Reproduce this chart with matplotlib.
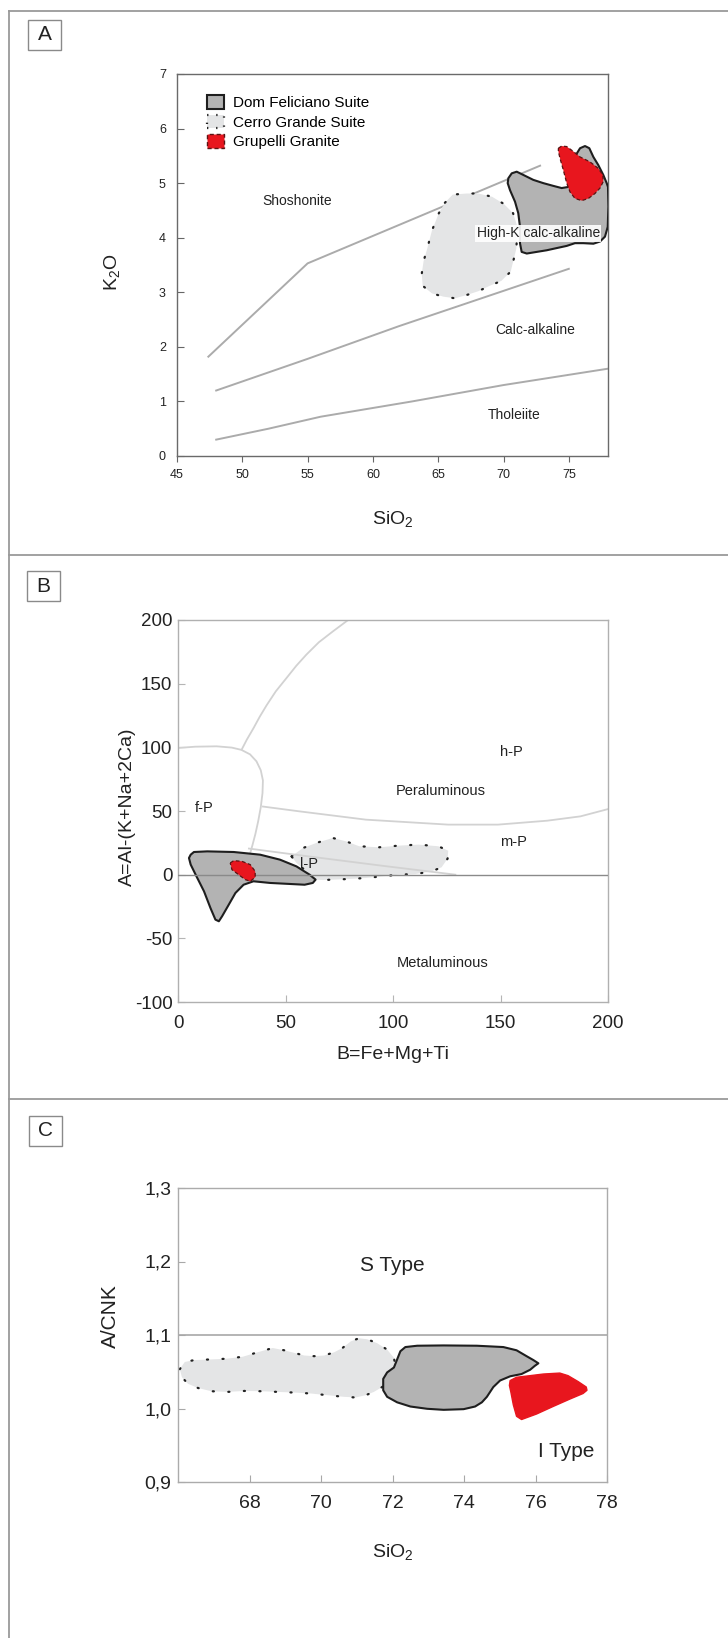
import numpy as np
import matplotlib
matplotlib.use('Agg')
from matplotlib import pyplot as plt
from matplotlib.patches import Polygon, Patch, Rectangle
from matplotlib.lines import Line2D

plt.rcParams['font.family'] = ['Liberation Sans', 'DejaVu Sans']
plt.rcParams['axes.unicode_minus'] = False

# ---------------- panel A : K2O vs SiO2 ----------------
a_xticks = [45, 50, 55, 60, 65, 70, 75]
a_yticks = [0, 1, 2, 3, 4, 5, 6, 7]
a_sho_x = [47.4, 55.0, 72.8]
a_sho_y = [1.82, 3.53, 5.32]
a_hik_x = [48.0, 55.0, 62.0, 75.0]
a_hik_y = [1.20, 1.78, 2.38, 3.43]
a_tho_x = [48.0, 52.0, 56.0, 63.0, 70.0, 78.0]
a_tho_y = [0.30, 0.50, 0.72, 1.00, 1.30, 1.60]

a_cerro_x = [65.51, 66.11, 67.18, 68.07, 69.13, 70.02, 70.73, 71.08, 70.98, 70.55, 69.84,
             68.95, 68.07, 67.18, 66.29, 65.40, 64.52, 63.81, 63.74, 63.88, 64.16, 64.52, 65.05]
a_cerro_y = [4.64, 4.79, 4.81, 4.81, 4.75, 4.62, 4.45, 4.19, 3.80, 3.38, 3.21,
             3.12, 3.02, 2.95, 2.89, 2.92, 2.98, 3.12, 3.34, 3.57, 3.80, 4.13, 4.45]

a_dom_x = [70.37, 70.63, 71.01, 71.52, 72.28, 73.05, 73.81, 74.45, 74.96, 75.30, 75.50,
           75.86, 76.24, 76.57, 76.88, 77.26, 77.64, 77.90, 78.00, 78.03, 77.98, 77.77,
           77.39, 76.88, 76.11, 75.47, 74.84, 74.07, 73.31, 72.54, 71.78, 71.39, 71.26,
           71.26, 71.13, 70.88, 70.50, 70.32]
a_dom_y = [5.09, 5.18, 5.21, 5.15, 5.06, 5.00, 4.95, 4.91, 4.93, 5.20, 5.50,
           5.64, 5.68, 5.64, 5.48, 5.33, 5.15, 5.00, 4.93, 4.57, 4.20, 4.02,
           3.93, 3.89, 3.90, 3.90, 3.85, 3.81, 3.77, 3.74, 3.71, 3.74, 3.90,
           4.20, 4.45, 4.66, 4.87, 5.00]

a_gru_x = [74.20, 74.45, 74.84, 75.35, 75.86, 76.62, 77.26, 77.60, 77.64, 77.39, 77.00,
           76.50, 75.99, 75.47, 75.09, 74.84, 74.58, 74.33, 74.20]
a_gru_y = [5.64, 5.68, 5.67, 5.58, 5.48, 5.39, 5.27, 5.15, 5.03, 4.91, 4.81,
           4.72, 4.68, 4.72, 4.84, 5.00, 5.24, 5.45, 5.58]

a_labels = ['Shoshonite', 'High-K calc-alkaline', 'Calc-alkaline', 'Tholeiite']
a_label_x = [54.2, 72.65, 72.4, 70.8]
a_label_y = [4.68, 4.08, 2.30, 0.76]

legend_names = ['Dom Feliciano Suite', 'Cerro Grande Suite', 'Grupelli Granite']

# ---------------- panel B : A-B diagram ----------------
b_xticks = [0, 50, 100, 150, 200]
b_yticks = [-100, -50, 0, 50, 100, 150, 200]
b_fp_x = [0.0, 8.0, 18.0, 25.0, 29.5, 33.5, 36.5, 38.5, 39.5, 39.3, 38.5, 37.3, 36.0, 34.6, 33.6]
b_fp_y = [99.5, 100.5, 100.8, 99.8, 98.0, 94.5, 89.0, 82.0, 74.0, 64.0, 53.0, 42.0, 32.0, 23.0, 17.0]
b_arc_x = [29.7, 32.0, 35.1, 38.0, 41.2, 45.5, 50.5, 55.0, 59.7, 65.5, 72.0, 80.4]
b_arc_y = [98.5, 106.0, 115.0, 124.0, 133.0, 144.0, 154.5, 164.0, 172.8, 182.5, 191.0, 201.6]
b_hp_x = [39.5, 56.6, 87.4, 125.7, 148.8, 171.8, 187.2, 200.0]
b_hp_y = [53.5, 49.7, 43.2, 39.3, 39.3, 42.4, 45.8, 51.5]
b_lp_x = [33.0, 60.0, 95.0, 129.0]
b_lp_y = [20.5, 14.5, 7.0, 0.0]

b_dom_x = [5.9, 7.4, 13.6, 25.9, 38.2, 47.4, 55.1, 61.2, 64.0, 62.7, 58.9, 52.0, 42.8,
           35.1, 30.5, 26.7, 23.6, 20.5, 19.0, 17.4, 15.1, 12.1, 8.2, 5.9, 5.1]
b_dom_y = [15.7, 17.8, 18.3, 17.8, 15.7, 11.8, 6.5, 0.0, -3.9, -6.5, -7.9, -7.3, -6.5,
           -5.2, -7.9, -14.4, -23.6, -32.7, -36.6, -35.3, -26.2, -13.1, 0.0, 7.9, 13.1]
b_cerro_x = [52.8, 58.1, 64.3, 72.0, 78.1, 84.3, 93.5, 102.7, 111.9, 121.1, 125.7, 125.4,
             122.6, 118.0, 110.4, 102.7, 95.0, 87.3, 79.6, 72.0, 67.4, 62.7, 59.7, 55.1]
b_cerro_y = [14.4, 20.9, 24.9, 28.8, 26.2, 22.3, 21.5, 22.8, 23.6, 22.3, 18.8, 12.6,
             5.8, 2.6, 0.5, 0.0, -1.3, -2.6, -3.4, -3.9, -4.2, -3.9, 2.6, 9.2]
b_gru_x = [24.3, 25.9, 29.7, 33.6, 35.9, 35.9, 33.6, 31.3, 28.2, 25.1]
b_gru_y = [9.2, 11.0, 10.5, 7.9, 2.6, -2.1, -5.2, -3.9, 0.0, 3.9]

b_labels = ['h-P', 'Peraluminous', 'f-P', 'm-P', 'l-P', 'Metaluminous']
b_label_x = [155, 122, 12, 156, 61, 123]
b_label_y = [96, 66, 52, 26, 8.5, -69]

# ---------------- panel C : A/CNK vs SiO2 ----------------
c_xticks = [68, 70, 72, 74, 76, 78]
c_yticks = [0.9, 1.0, 1.1, 1.2, 1.3]
c_yticklabels = ['0,9', '1,0', '1,1', '1,2', '1,3']
c_split = 1.1

c_cerro_x = [66.05, 66.19, 66.46, 66.93, 67.35, 67.81, 68.23, 68.65, 68.97, 69.25, 69.53,
             69.81, 70.09, 70.37, 70.60, 70.83, 71.06, 71.29, 71.57, 71.85, 72.04, 72.08,
             71.99, 71.85, 71.71, 71.48, 71.25, 70.97, 70.64, 70.18, 69.72, 69.25, 68.79,
             68.32, 67.86, 67.39, 66.93, 66.56, 66.28, 66.11]
c_cerro_y = [1.0535, 1.0633, 1.0659, 1.0668, 1.0677, 1.0704, 1.0765, 1.0823, 1.0792, 1.0757,
             1.0721, 1.0712, 1.0721, 1.0765, 1.0823, 1.0912, 1.0956, 1.0942, 1.0889, 1.0801,
             1.0690, 1.0580, 1.0469, 1.0380, 1.0292, 1.0226, 1.0181, 1.0150, 1.0159, 1.0181,
             1.0204, 1.0217, 1.0226, 1.0235, 1.0239, 1.0226, 1.0235, 1.0279, 1.0336, 1.0425]
c_dom_x = [72.13, 72.22, 72.36, 72.69, 73.43, 74.36, 75.10, 75.47, 75.75, 75.94, 76.08,
           75.98, 75.85, 75.61, 75.29, 75.01, 74.82, 74.64, 74.50, 74.31, 73.99, 73.43,
           72.97, 72.50, 72.13, 71.85, 71.74, 71.74, 71.85, 72.04]
c_dom_y = [1.0668, 1.0779, 1.0836, 1.0854, 1.0858, 1.0854, 1.0836, 1.0792, 1.0712, 1.0659,
           1.0615, 1.0580, 1.0527, 1.0469, 1.0438, 1.0381, 1.0292, 1.0159, 1.0084, 1.0027,
           0.9991, 0.9982, 0.9996, 1.0027, 1.0084, 1.0159, 1.0248, 1.0403, 1.0491, 1.0558]
c_gru_x = [75.29, 75.47, 75.85, 76.22, 76.68, 76.91, 77.19, 77.42, 77.44, 77.33, 76.96,
           76.49, 76.03, 75.61, 75.47, 75.38, 75.31, 75.27]
c_gru_y = [1.0380, 1.0425, 1.0447, 1.0469, 1.0482, 1.0447, 1.0367, 1.0292, 1.0248, 1.0204,
           1.0128, 1.0027, 0.9925, 0.9850, 0.9894, 1.0049, 1.0226, 1.0314]

c_labels = ['S Type', 'I Type']
c_label_x = [72.0, 76.85]
c_label_y = [1.195, 0.942]

# ---------------- styles ----------------
W, H = 728, 1638
DOM_FC, DOM_EC = '#b3b3b3', '#1e1e1e'
CER_FC = '#e4e5e6'
GRU_FC, GRU_EC = '#e8161e', '#5a1414'
FRAME = '#9a9a9a'


def fig_xy(px, py):
    return px / W, 1 - py / H


def axes_rect(l, t, r, b):
    x0, y1 = fig_xy(l, t)
    x1, y0 = fig_xy(r, b)
    return [x0, y0, x1 - x0, y1 - y0]


def shape(ax, xs, ys, kind, z):
    pts = np.column_stack([xs, ys])
    if kind == 'dom':
        p = Polygon(pts, closed=True, fc=DOM_FC, ec=DOM_EC, lw=1.5, joinstyle='round', zorder=z)
    elif kind == 'cerro':
        p = Polygon(pts, closed=True, fc=CER_FC, ec='#222222', lw=1.6,
                    linestyle=(0, (0.5, 6.5)), capstyle='round', zorder=z)
    else:
        p = Polygon(pts, closed=True, fc=GRU_FC, ec=GRU_EC, lw=0.9,
                    linestyle=(0, (3, 2)), joinstyle='round', zorder=z)
    ax.add_patch(p)


def style_axes(ax, spine_col):
    for s in ax.spines.values():
        s.set_color(spine_col)
        s.set_linewidth(1.0)


fig = plt.figure(figsize=(W / 100, H / 100), dpi=100)
fig.patch.set_facecolor('white')

# outer frame and separators
fig.add_artist(Line2D([9 / W, 9 / W], [0, 1 - 11 / H], color=FRAME, lw=1.3))
for yy in [11, 555, 1099]:
    fig.add_artist(Line2D([9 / W, 1], [1 - yy / H, 1 - yy / H], color=FRAME, lw=1.3))

# panel letters
for letter, (bx, by) in zip(['A', 'B', 'C'], [(28, 20), (27, 571), (29, 1116)]):
    x0, y1 = fig_xy(bx, by)
    x1, y0 = fig_xy(bx + 33, by + 30)
    fig.add_artist(Rectangle((x0, y0), x1 - x0, y1 - y0, fill=False, ec='#8a8a8a', lw=1.0,
                             transform=fig.transFigure))
    fig.text((x0 + x1) / 2, (y0 + y1) / 2, letter, ha='center', va='center', fontsize=15,
             color='#222222')

# ---- A ----
ax = fig.add_axes(axes_rect(177, 74, 608, 456))
ax.set_xlim(45, 78)
ax.set_ylim(0, 7)
for xs, ys in [(a_sho_x, a_sho_y), (a_hik_x, a_hik_y), (a_tho_x, a_tho_y)]:
    ax.plot(xs, ys, color='#ababab', lw=1.4, zorder=1)
shape(ax, a_cerro_x, a_cerro_y, 'cerro', 2)
shape(ax, a_dom_x, a_dom_y, 'dom', 3)
shape(ax, a_gru_x, a_gru_y, 'gru', 4)
for t, x, y in zip(a_labels, a_label_x, a_label_y):
    kw = {}
    if t.startswith('High'):
        kw['bbox'] = dict(fc='white', ec='none', pad=1.0, alpha=0.9)
    ax.text(x, y, t, ha='center', va='center', fontsize=10, color='#222222', zorder=5, **kw)
ax.set_xticks(a_xticks)
ax.set_yticks(a_yticks)
ax.tick_params(axis='x', direction='out', length=4, width=0.8, color='#666666', labelsize=9,
               pad=5, labelcolor='#222222')
ax.tick_params(axis='y', direction='in', length=5, width=0.8, color='#666666', labelsize=9,
               pad=8, labelcolor='#222222')
style_axes(ax, '#6a6a6a')
ax.set_xlabel('SiO$_\\mathregular{2}$', fontsize=14, color='#222222')
ax.set_ylabel('K$_\\mathregular{2}$O', fontsize=14, color='#222222')
ax.xaxis.set_label_coords(0.5, -0.14)
ax.yaxis.set_label_coords(-0.125, 0.48)
handles = [Patch(fc=DOM_FC, ec=DOM_EC, lw=1.5),
           Patch(fc=CER_FC, ec='#222222', lw=1.6, linestyle=(0, (0.6, 3.5))),
           Patch(fc=GRU_FC, ec=GRU_EC, lw=1.0, linestyle=(0, (3, 2)))]
ax.legend(handles, legend_names, loc='upper left', bbox_to_anchor=(0.07, 0.945), frameon=False,
          fontsize=11, handlelength=1.1, handleheight=1.0, handletextpad=0.6, labelspacing=0.3,
          borderpad=0, borderaxespad=0)

# ---- B ----
ax = fig.add_axes(axes_rect(178, 620, 608, 1002))
ax.set_xlim(0, 200)
ax.set_ylim(-100, 200)
for xs, ys in [(b_fp_x, b_fp_y), (b_arc_x, b_arc_y), (b_hp_x, b_hp_y), (b_lp_x, b_lp_y)]:
    ax.plot(xs, ys, color='#d2d2d2', lw=1.3, zorder=2.5, solid_joinstyle='round')
ax.axhline(0, color='#8a8a8a', lw=1.0, zorder=3.5)
shape(ax, b_cerro_x, b_cerro_y, 'cerro', 2)
shape(ax, b_dom_x, b_dom_y, 'dom', 3)
shape(ax, b_gru_x, b_gru_y, 'gru', 4)
for t, x, y in zip(b_labels, b_label_x, b_label_y):
    ax.text(x, y, t, ha='center', va='center', fontsize=10.5, color='#222222', zorder=5)
ax.set_xticks(b_xticks)
ax.set_yticks(b_yticks)
ax.tick_params(direction='in', length=5, width=0.8, color='#b5b5b5', labelsize=13.5,
               labelcolor='#222222')
ax.tick_params(axis='x', pad=9)
ax.tick_params(axis='y', pad=4)
style_axes(ax, '#b0b0b0')
ax.set_xlabel('B=Fe+Mg+Ti', fontsize=14, color='#222222')
ax.set_ylabel('A=Al-(K+Na+2Ca)', fontsize=14, color='#222222')
ax.xaxis.set_label_coords(0.5, -0.115)
ax.yaxis.set_label_coords(-0.097, 0.51)

# ---- C ----
ax = fig.add_axes(axes_rect(178, 1188, 607, 1482))
ax.set_xlim(66, 78)
ax.set_ylim(0.9, 1.3)
ax.axhline(c_split, color='#a0a0a0', lw=1.1, zorder=1)
shape(ax, c_cerro_x, c_cerro_y, 'cerro', 2)
shape(ax, c_dom_x, c_dom_y, 'dom', 3)
ax.add_patch(Polygon(np.column_stack([c_gru_x, c_gru_y]), closed=True, fc=GRU_FC, ec=GRU_FC,
                     lw=1.0, joinstyle='round', zorder=4))
for t, x, y in zip(c_labels, c_label_x, c_label_y):
    ax.text(x, y, t, ha='center', va='center', fontsize=15, color='#222222', zorder=5)
ax.set_xticks(c_xticks)
ax.set_yticks(c_yticks)
ax.set_yticklabels(c_yticklabels)
ax.tick_params(direction='in', length=5, width=0.8, color='#a8a8a8', labelsize=14,
               labelcolor='#222222')
ax.tick_params(axis='x', pad=9)
ax.tick_params(axis='y', pad=5)
style_axes(ax, '#ababab')
ax.set_xlabel('SiO$_\\mathregular{2}$', fontsize=14, color='#222222')
ax.set_ylabel('A/CNK', fontsize=15, color='#222222')
ax.xaxis.set_label_coords(0.5, -0.205)
ax.yaxis.set_label_coords(-0.135, 0.565)

fig.savefig('out.png', dpi=100, facecolor='white')
